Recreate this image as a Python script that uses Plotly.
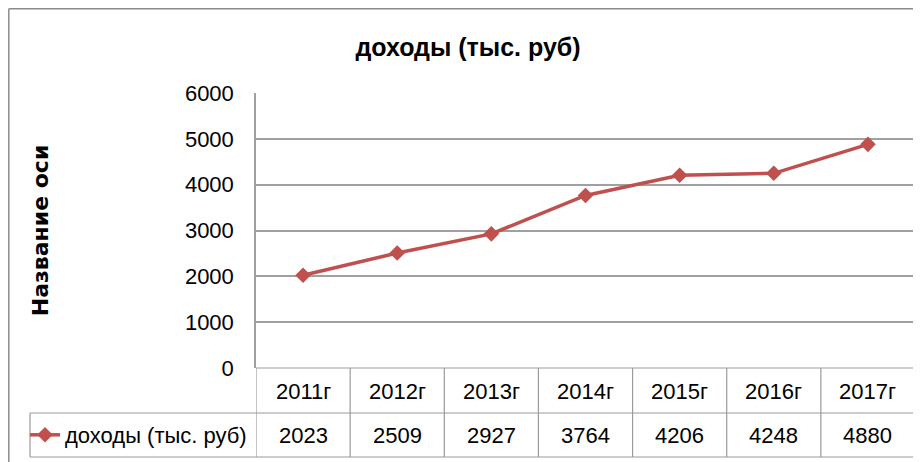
import plotly.graph_objects as go

categories = ["2011г", "2012г", "2013г", "2014г", "2015г", "2016г", "2017г"]
values = [2023, 2509, 2927, 3764, 4206, 4248, 4880]
series_name = "доходы (тыс. руб)"
y_ticks = [0, 1000, 2000, 3000, 4000, 5000, 6000]

# page body has an 8px margin: work in reference pixels and shift
O = 8
W, H = 921 - O, 462 - O
L, R, T, B = 256 - O, 915 - O, 93 - O, 368 - O
pw, ph = R - L, B - T

def px(x_ref):
    return (x_ref - O - L) / pw

def py(y_ref):
    return (B - (y_ref - O)) / ph

RED = "#C0504D"
GRID = "#A0A0A0"
TABLE = "#9A9A9A"
FONT = "Liberation Sans, Arial, sans-serif"
FS = 22

fig = go.Figure()
fig.add_trace(go.Scatter(
    x=list(range(len(categories))), y=values, mode="lines+markers",
    name=series_name,
    line=dict(color=RED, width=3.5),
    marker=dict(symbol="diamond", size=12, color=RED),
    showlegend=True,
))

shapes = []
for k in range(len(categories) + 1):
    shapes.append(dict(type="line", xref="x", yref="paper", x0=k - 0.5, x1=k - 0.5,
                       y0=py(368), y1=py(457), line=dict(color=TABLE, width=1.2)))
shapes.append(dict(type="line", xref="paper", yref="paper", x0=0, x1=1,
                   y0=py(368), y1=py(368), line=dict(color=TABLE, width=1.2)))
for yy in (413, 457):
    shapes.append(dict(type="line", xref="paper", yref="paper", x0=px(30), x1=1,
                       y0=py(yy), y1=py(yy), line=dict(color=TABLE, width=1.2)))
shapes.append(dict(type="line", xref="paper", yref="paper", x0=px(30), x1=px(30),
                   y0=py(413), y1=py(457), line=dict(color=TABLE, width=1.2)))
# outer chart border (top and left)
shapes.append(dict(type="line", xref="paper", yref="paper", x0=px(8.8), x1=px(925),
                   y0=py(8.8), y1=py(8.8), line=dict(color="#8C8C8C", width=1.5)))
shapes.append(dict(type="line", xref="paper", yref="paper", x0=px(8.8), x1=px(8.8),
                   y0=py(8.8), y1=py(470), line=dict(color="#8C8C8C", width=1.5)))

annotations = []
for i, (c, v) in enumerate(zip(categories, values)):
    annotations.append(dict(x=i, y=py(391), xref="x", yref="paper", text=c,
                            xanchor="center", yanchor="middle",
                            showarrow=False, font=dict(family=FONT, size=FS, color="#000")))
    annotations.append(dict(x=i, y=py(435), xref="x", yref="paper", text=str(v),
                            xanchor="center", yanchor="middle",
                            showarrow=False, font=dict(family=FONT, size=FS, color="#000")))

fig.update_layout(
    width=W, height=H,
    margin=dict(l=L, r=W - R, t=T, b=H - B),
    paper_bgcolor="white", plot_bgcolor="white",
    title=dict(text="<b>доходы (тыс. руб)</b>", x=(468 - O) / W, xref="container",
               y=1 - (47 - O) / H, yref="container", xanchor="center", yanchor="middle",
               font=dict(family=FONT, size=25, color="#000")),
    xaxis=dict(range=[-0.5, len(categories) - 0.5], showticklabels=False,
               showgrid=False, zeroline=False, showline=False, ticks=""),
    yaxis=dict(range=[0, 6000], tickvals=y_ticks, showgrid=True, gridcolor=GRID,
               gridwidth=1.5, zeroline=False, showline=True, linecolor=GRID, linewidth=1.5,
               ticks="", ticklabelstandoff=16,
               tickfont=dict(family=FONT, size=FS, color="#000"),
               title=dict(text="<b>Название оси</b>", standoff=130,
                          font=dict(family="DejaVu Sans, sans-serif", size=22, color="#000"))),
    legend=dict(x=px(25), y=py(435), xanchor="left", yanchor="middle",
                bgcolor="rgba(0,0,0,0)", itemwidth=30,
                font=dict(family=FONT, size=FS, color="#000")),
    shapes=shapes,
    annotations=annotations,
)

fig.write_html("out.html")
